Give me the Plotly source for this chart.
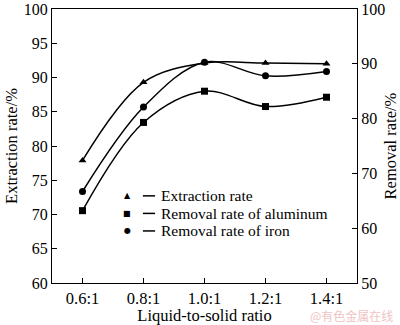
import plotly.graph_objects as go

ratios = [0.6, 0.8, 1.0, 1.2, 1.4]
ratio_labels = ["0.6:1", "0.8:1", "1.0:1", "1.2:1", "1.4:1"]
extraction = [77.9, 89.3, 92.1, 92.1, 92.0]
removal_al = [63.2, 79.3, 85.0, 82.2, 83.9]
removal_fe = [66.7, 82.1, 90.3, 87.8, 88.6]

series = [
    ("Extraction rate", extraction, "y", "triangle-up", "▲"),
    ("Removal rate of aluminum", removal_al, "y2", "square", "■"),
    ("Removal rate of iron", removal_fe, "y2", "circle", "●"),
]

FONT = "Liberation Serif, Times New Roman, serif"

fig = go.Figure()
for name, vals, ax, sym, glyph in series:
    fig.add_trace(go.Scatter(x=ratios, y=vals, name=name, yaxis=ax, showlegend=False,
                             mode="lines+markers",
                             line=dict(color="black", width=1.5, shape="spline", smoothing=1),
                             marker=dict(symbol=sym, size=7, color="black")))

# legend drawn as annotations: small marker, short line, label
annotations = []
shapes = []
row_y = [0.318, 0.254, 0.190]
for (name, vals, ax, sym, glyph), ry in zip(series, row_y):
    annotations.append(dict(text=glyph, xref="paper", yref="paper", x=0.246, y=ry,
                            xanchor="center", yanchor="middle", showarrow=False,
                            font=dict(family="DejaVu Sans", size=8, color="black")))
    shapes.append(dict(type="line", xref="paper", yref="paper", x0=0.298, x1=0.338,
                       y0=ry, y1=ry, line=dict(color="black", width=1.5)))
    annotations.append(dict(text=name, xref="paper", yref="paper", x=0.352, y=ry,
                            xanchor="left", yanchor="middle", showarrow=False,
                            font=dict(family=FONT, size=15.5, color="black")))

annotations.append(dict(text="@有色金属在线", xref="paper", yref="paper", x=1.125, y=-0.118,
                        xanchor="right", yanchor="middle", showarrow=False,
                        font=dict(family="Noto Sans CJK SC", size=12, color="#efc4c4")))

fig.update_layout(
    width=400, height=325,
    margin=dict(l=52, r=43, t=9, b=42),
    paper_bgcolor="white", plot_bgcolor="white",
    font=dict(family=FONT, size=16, color="black"),
    showlegend=False,
    xaxis=dict(range=[0.5, 1.5], tickvals=ratios, ticktext=ratio_labels,
               showline=True, linecolor="black", linewidth=1, mirror=True,
               ticks="inside", ticklen=5, tickcolor="black", showgrid=False, zeroline=False,
               tickfont=dict(family=FONT, size=16.5), ticklabeloverflow="allow", automargin=False,
               title=dict(text="Liquid-to-solid ratio", standoff=2, font=dict(family=FONT, size=16.5))),
    yaxis=dict(range=[60, 100], dtick=5, showline=True, linecolor="black", linewidth=1,
               ticks="inside", ticklen=5, tickcolor="black", showgrid=False, zeroline=False,
               tickfont=dict(family=FONT, size=16), ticklabeloverflow="allow", automargin=False,
               title=dict(text="Extraction rate/%", standoff=2, font=dict(family=FONT, size=16.5))),
    yaxis2=dict(range=[50, 100], dtick=10, overlaying="y", side="right",
                showline=True, linecolor="black", linewidth=1,
                ticks="inside", ticklen=5, tickcolor="black", showgrid=False, zeroline=False,
                tickfont=dict(family=FONT, size=16), ticklabeloverflow="allow", automargin=False,
                title=dict(text="Removal rate/%", standoff=2, font=dict(family=FONT, size=16.5))),
    annotations=annotations,
    shapes=shapes,
)

fig.write_html("out.html")
